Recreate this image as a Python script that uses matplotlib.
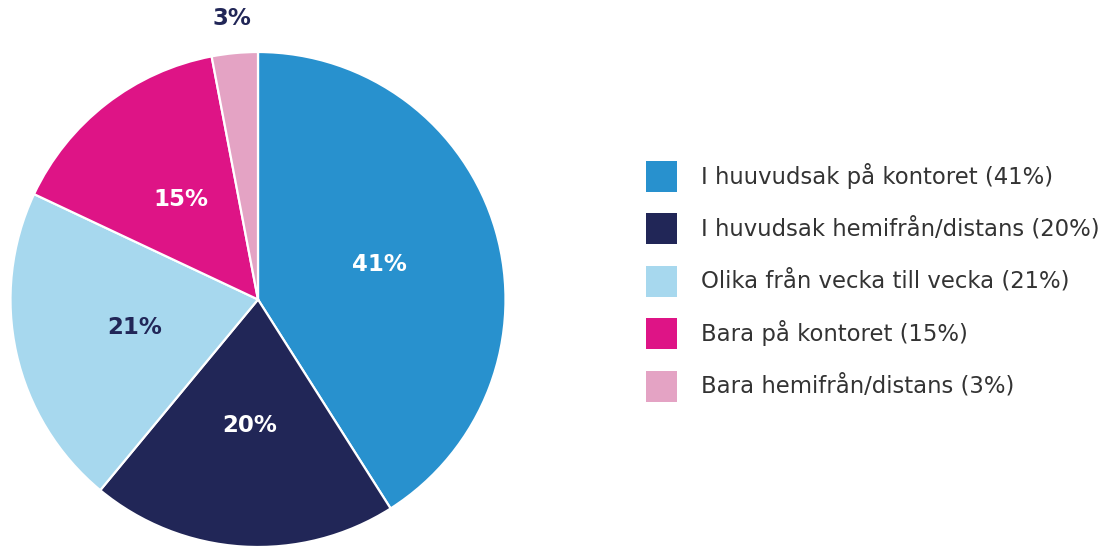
import matplotlib
matplotlib.use("Agg")
import matplotlib.pyplot as plt
from matplotlib.patches import Rectangle
import numpy as np

categories = ["I huuvudsak på kontoret", "I huvudsak hemifrån/distans",
              "Olika från vecka till vecka", "Bara på kontoret", "Bara hemifrån/distans"]
values = [41, 20, 21, 15, 3]
colors = ["#2891CE", "#212657", "#A7D8EE", "#DE1486", "#E4A3C4"]
label_colors = ["white", "white", "#212657", "white", "#212657"]

W, H = 1108, 547
fig = plt.figure(figsize=(W / 100, H / 100), dpi=100)
plt.rcParams['font.family'] = ['DejaVu Sans']

# pie axes: centre (258, 299.5), radius 247.5 px
cx, cy, r = 258, 299.5, 247.5
ax = fig.add_axes([(cx - r) / W, (H - cy - r) / H, 2 * r / W, 2 * r / H])
wedges, _ = ax.pie(values, colors=colors, startangle=90, counterclock=False,
                   radius=1, wedgeprops=dict(edgecolor="white", linewidth=1.6))
ax.set_xlim(-1, 1)
ax.set_ylim(-1, 1)
ax.set_aspect("equal")
ax.axis("off")

for w, v, lc in zip(wedges, values, label_colors):
    ang = np.deg2rad((w.theta1 + w.theta2) / 2)
    d = 1.14 if v < 5 else 0.51
    ax.text(d * np.cos(ang), d * np.sin(ang), f"{v}%", ha="center", va="center",
            color=lc, fontsize=16.5, fontweight="bold", clip_on=False)

# legend
y0, dy = 176, 52.5
sq = 31
for i, (cat, v, c) in enumerate(zip(categories, values, colors)):
    yc = y0 + i * dy
    fig.patches.append(Rectangle((646 / W, (H - yc - sq / 2) / H), sq / W, sq / H,
                                 transform=fig.transFigure, facecolor=c, edgecolor="none"))
    fig.text(701 / W, (H - yc) / H, f"{cat} ({v}%)", ha="left", va="center",
             fontsize=16.4, color="#333333")

fig.savefig("out.png", dpi=100)
